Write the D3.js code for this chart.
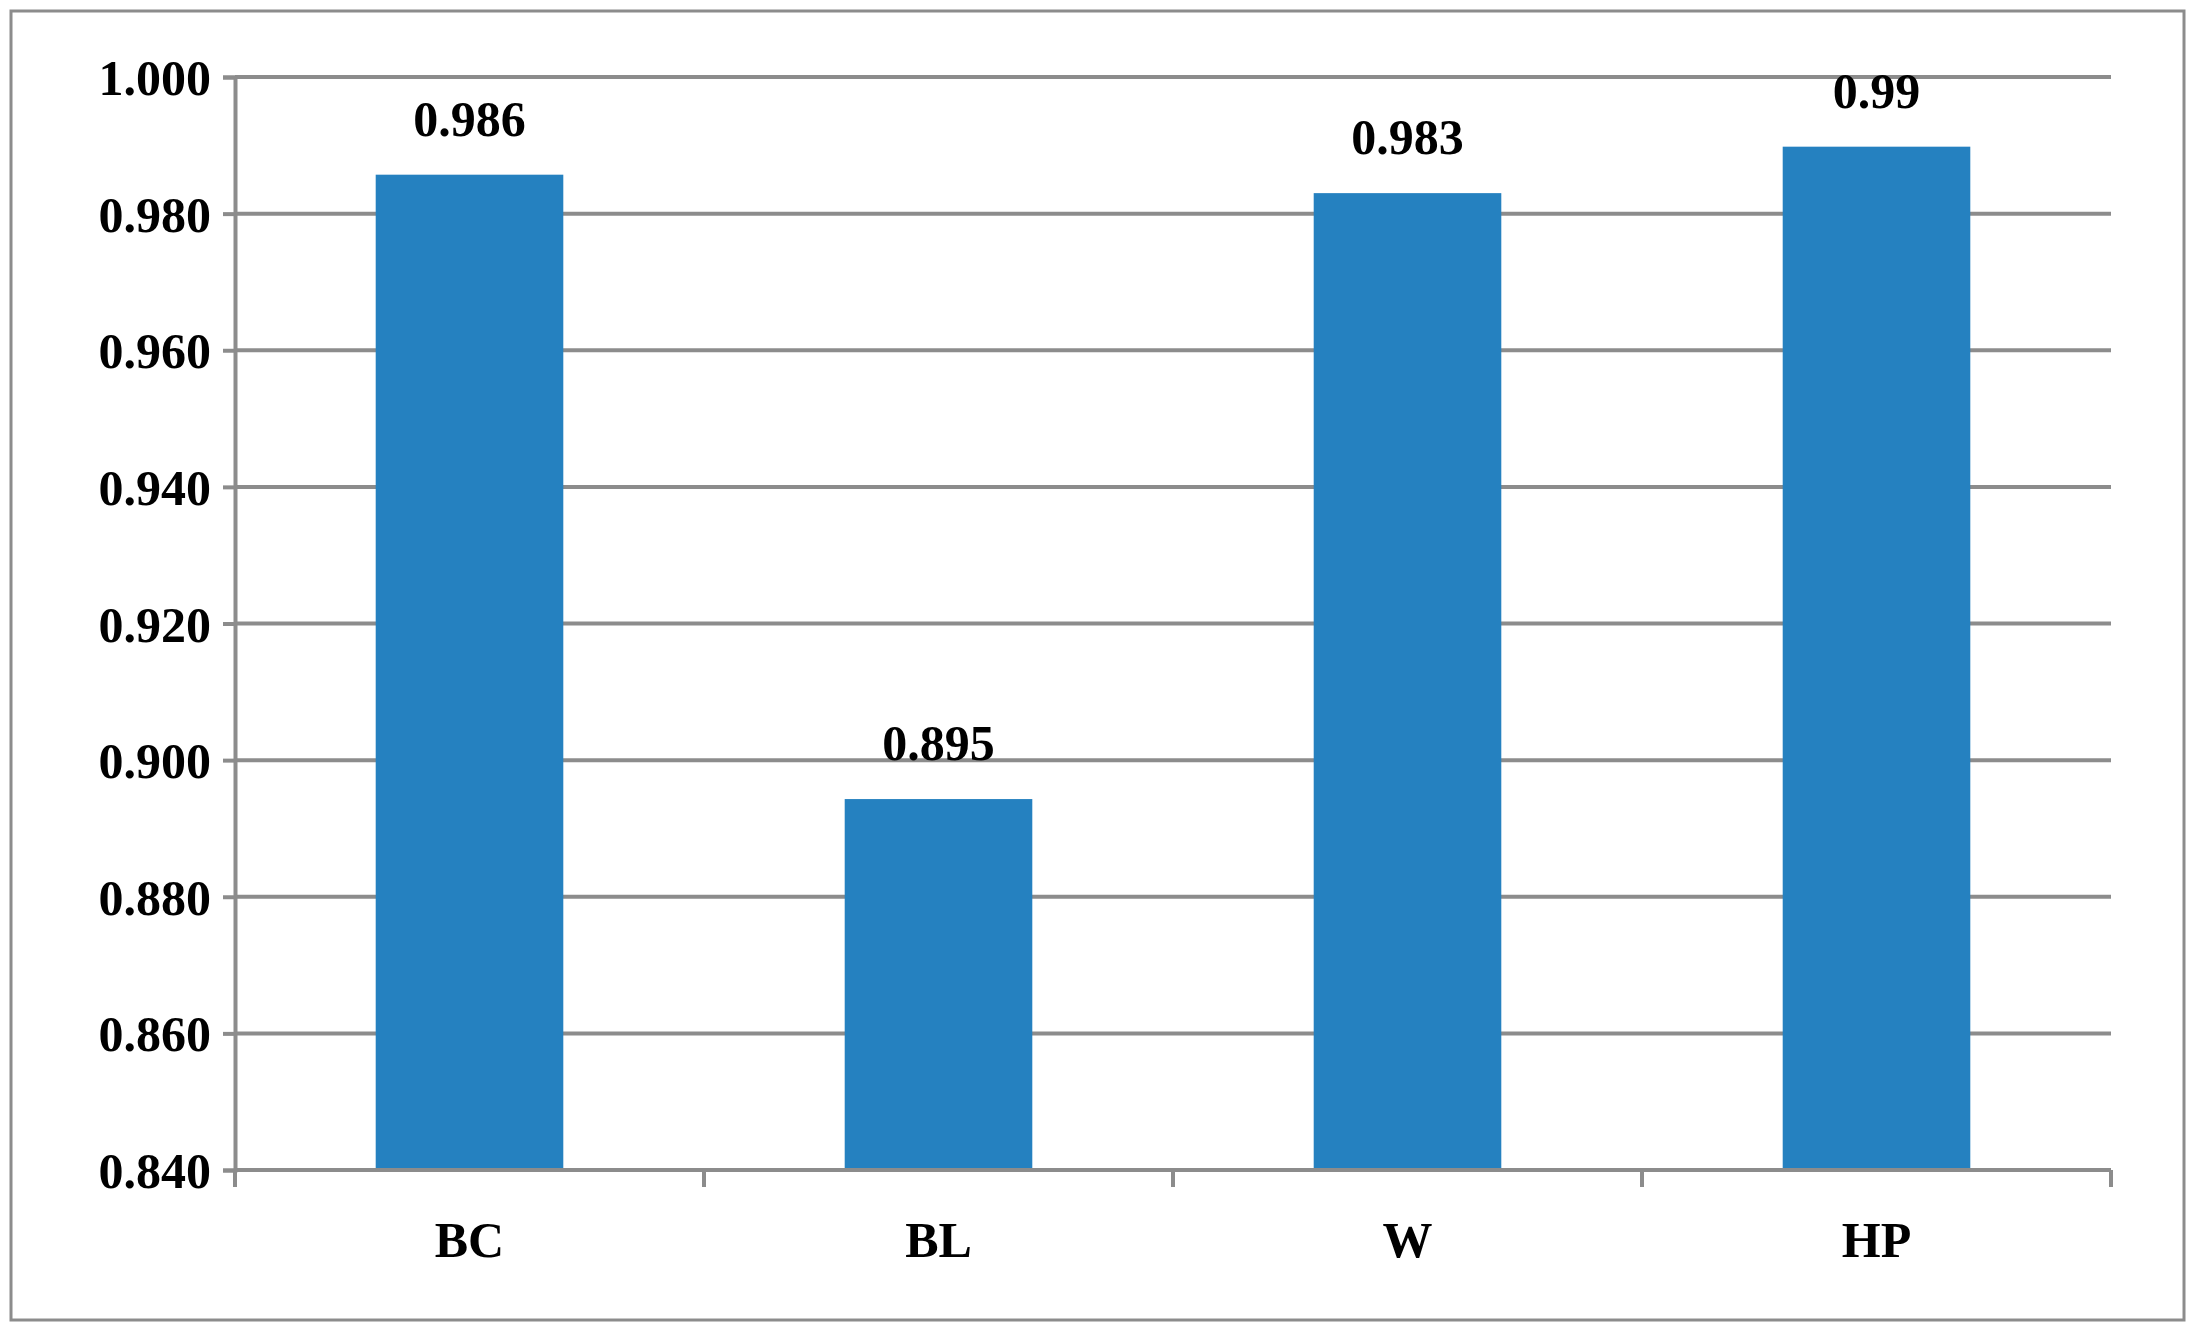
<!DOCTYPE html>
<html><head><meta charset="utf-8">
<script src="https://cdn.jsdelivr.net/npm/d3@7"></script>
<style>body{margin:0;background:#fff}svg{display:block}text{font-family:"Liberation Serif","Times New Roman",serif;font-weight:bold}</style>
</head><body>
<script>
const categories = ["BC", "BL", "W", "HP"];
const values = [0.9857, 0.8943, 0.983, 0.9898];
const labels = ["0.986", "0.895", "0.983", "0.99"];
const yTicks = [0.84, 0.86, 0.88, 0.9, 0.92, 0.94, 0.96, 0.98, 1.0];

const W = 2193, H = 1334;
const m = {left: 235, right: 2111, top: 77, bottom: 1170};
const svg = d3.select("body").append("svg").attr("width", W).attr("height", H);

svg.append("rect").attr("x", 11).attr("y", 11).attr("width", 2173).attr("height", 1309)
  .attr("fill", "#fff").attr("stroke", "#8c8c8c").attr("stroke-width", 3);

const x = d3.scaleBand().domain(categories).range([m.left, m.right]).paddingInner(0.6).paddingOuter(0.3);
const y = d3.scaleLinear().domain([0.84, 1.0]).range([m.bottom, m.top]);
const grey = "#8c8c8c";

// grid
svg.append("g").selectAll("line").data(yTicks.slice(1)).join("line")
  .attr("x1", m.left).attr("x2", m.right).attr("y1", d => y(d)).attr("y2", d => y(d))
  .attr("stroke", grey).attr("stroke-width", 4);

// y axis
const ya = svg.append("g").attr("transform", `translate(${m.left},0)`)
  .call(d3.axisLeft(y).tickValues(yTicks).tickFormat(d3.format(".3f")).tickSize(12).tickPadding(12));
ya.select(".domain").attr("stroke", grey).attr("stroke-width", 4);
ya.selectAll(".tick line").attr("stroke", grey).attr("stroke-width", 4);
ya.selectAll("text").attr("font-size", 50).attr("fill", "#000").attr("dy", "0.35em")
  .style("font-family", '"Liberation Serif",serif').style("font-weight", "bold");

// bars
svg.append("g").selectAll("rect").data(values).join("rect")
  .attr("x", (d, i) => x(categories[i])).attr("width", x.bandwidth())
  .attr("y", d => y(d)).attr("height", d => y(0.84) - y(d)).attr("fill", "#2581c0");

// x axis
const step = x.step();
const boundaries = d3.range(categories.length + 1).map(i => m.left + i * (m.right - m.left) / categories.length);
svg.append("line").attr("x1", m.left).attr("x2", m.right).attr("y1", m.bottom).attr("y2", m.bottom)
  .attr("stroke", grey).attr("stroke-width", 4);
svg.append("g").selectAll("line").data(boundaries).join("line")
  .attr("x1", d => d).attr("x2", d => d).attr("y1", m.bottom).attr("y2", m.bottom + 17)
  .attr("stroke", grey).attr("stroke-width", 4);
svg.append("g").selectAll("text").data(categories).join("text")
  .attr("x", d => x(d) + x.bandwidth() / 2).attr("y", m.bottom + 87)
  .attr("text-anchor", "middle").attr("font-size", 50).text(d => d);

// value labels
svg.append("g").selectAll("text").data(values).join("text")
  .attr("x", (d, i) => x(categories[i]) + x.bandwidth() / 2).attr("y", d => y(d) - 39)
  .attr("text-anchor", "middle").attr("font-size", 50).text((d, i) => labels[i]);
</script>
</body></html>
